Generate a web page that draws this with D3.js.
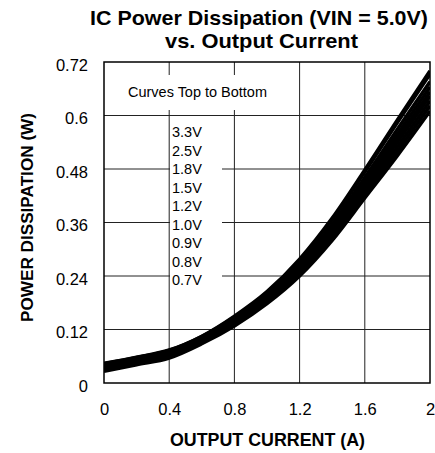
<!DOCTYPE html>
<html>
<head>
<meta charset="utf-8">
<script src="https://cdn.jsdelivr.net/npm/d3@7"></script>
<style>
  body { margin: 0; background: #fff; }
  text { font-family: "Liberation Sans", Arial, sans-serif; fill: #000; }
</style>
</head>
<body>
<div id="chart"></div>
<script>
// output current (A) sample points
const current = [0, 0.2, 0.4, 0.6, 0.8, 1.0, 1.2, 1.4, 1.6, 1.8, 2.0];

// power dissipation (W) for each output voltage
const v33 = [0.044, 0.058, 0.074, 0.105, 0.150, 0.205, 0.278, 0.370, 0.478, 0.590, 0.700];
const v25 = [0.043, 0.057, 0.073, 0.104, 0.148, 0.203, 0.275, 0.366, 0.473, 0.584, 0.693];
const v18 = [0.039, 0.053, 0.069, 0.100, 0.143, 0.197, 0.267, 0.356, 0.461, 0.569, 0.676];
const v15 = [0.037, 0.051, 0.067, 0.098, 0.141, 0.194, 0.263, 0.350, 0.453, 0.558, 0.664];
const v12 = [0.035, 0.049, 0.065, 0.096, 0.139, 0.191, 0.258, 0.344, 0.445, 0.548, 0.653];
const v10 = [0.033, 0.047, 0.063, 0.094, 0.136, 0.188, 0.254, 0.339, 0.439, 0.540, 0.644];
const v09 = [0.031, 0.045, 0.061, 0.092, 0.134, 0.185, 0.250, 0.333, 0.431, 0.530, 0.633];
const v08 = [0.028, 0.043, 0.058, 0.090, 0.131, 0.182, 0.245, 0.327, 0.423, 0.520, 0.622];
const v07 = [0.026, 0.041, 0.056, 0.088, 0.128, 0.178, 0.240, 0.320, 0.415, 0.510, 0.610];

const seriesNames = ["3.3V", "2.5V", "1.8V", "1.5V", "1.2V", "1.0V", "0.9V", "0.8V", "0.7V"];
const seriesValues = [v33, v25, v18, v15, v12, v10, v09, v08, v07];

const xTicks = [0, 0.4, 0.8, 1.2, 1.6, 2];
const yTicks = [0, 0.12, 0.24, 0.36, 0.48, 0.6, 0.72];

const margin = {top: 62, right: 5, bottom: 70, left: 104},
      W = 435, H = 453,
      width = W - margin.left - margin.right,
      height = H - margin.top - margin.bottom;

const svg = d3.select("#chart").append("svg")
    .attr("width", W)
    .attr("height", H);

const g = svg.append("g")
    .attr("transform", "translate(" + margin.left + "," + margin.top + ")");

const x = d3.scaleLinear().domain([0, 2]).range([0, width]);
const y = d3.scaleLinear().domain([0, 0.72]).range([height, 0]);

// grid
g.append("g")
  .selectAll("line")
  .data(xTicks.slice(1, -1))
  .join("line")
  .attr("x1", d => x(d)).attr("x2", d => x(d))
  .attr("y1", 0).attr("y2", height)
  .attr("stroke", "#222").attr("stroke-width", 1);

g.append("g")
  .selectAll("line")
  .data(yTicks.slice(1, -1))
  .join("line")
  .attr("x1", 0).attr("x2", width)
  .attr("y1", d => y(d)).attr("y2", d => y(d))
  .attr("stroke", "#222").attr("stroke-width", 1);

// legend text sits on white patches over the grid
const legend = g.append("g");
legend.append("rect")
  .attr("x", 62).attr("y", 13).attr("width", 70).attr("height", 35)
  .attr("fill", "#fff");
legend.append("text")
  .attr("x", 93.5).attr("y", 35)
  .attr("text-anchor", "middle")
  .attr("textLength", 139).attr("lengthAdjust", "spacingAndGlyphs")
  .style("font-size", "14.5px")
  .text("Curves Top to Bottom");

legend.append("rect")
  .attr("x", 66).attr("y", 56).attr("width", 52).attr("height", 170)
  .attr("fill", "#fff");
legend.selectAll("text.v")
  .data(seriesNames)
  .join("text")
  .attr("class", "v")
  .attr("x", 68)
  .attr("y", (d, i) => 75 + i * 18.5)
  .style("font-size", "14.5px")
  .text(d => d);

// curves
g.append("clipPath").attr("id", "clip")
  .append("rect").attr("width", width).attr("height", height);

const line = d3.line()
  .x((d, i) => x(current[i]))
  .y(d => y(d))
  .curve(d3.curveMonotoneX);

g.append("g")
  .attr("clip-path", "url(#clip)")
  .selectAll("path")
  .data(seriesValues)
  .join("path")
  .attr("d", line)
  .attr("fill", "none")
  .attr("stroke", "#000")
  .attr("stroke-width", 3.5);

// frame
g.append("rect")
  .attr("width", width).attr("height", height)
  .attr("fill", "none").attr("stroke", "#000").attr("stroke-width", 1.5);

// axes
const xAxis = g.append("g")
  .attr("transform", "translate(0," + height + ")")
  .call(d3.axisBottom(x).tickValues(xTicks).tickSize(0).tickPadding(20).tickFormat(d3.format("")));
const yAxis = g.append("g")
  .call(d3.axisLeft(y).tickValues(yTicks).tickSize(0).tickPadding(16).tickFormat(d3.format("")));
yAxis.selectAll("text").attr("dy", "0.5em");
[xAxis, yAxis].forEach(a => {
  a.select(".domain").remove();
  a.selectAll("text").style("font-size", "16.5px").style("font-family", "'Liberation Sans', Arial, sans-serif");
});

// titles
svg.append("text")
  .attr("x", 259).attr("y", 25)
  .attr("text-anchor", "middle")
  .attr("textLength", 338).attr("lengthAdjust", "spacingAndGlyphs")
  .style("font-size", "21px").style("font-weight", "bold")
  .text("IC Power Dissipation (VIN = 5.0V)");
svg.append("text")
  .attr("x", 261.5).attr("y", 48)
  .attr("text-anchor", "middle")
  .attr("textLength", 193).attr("lengthAdjust", "spacingAndGlyphs")
  .style("font-size", "21px").style("font-weight", "bold")
  .text("vs. Output Current");

svg.append("text")
  .attr("x", 267.5).attr("y", 446)
  .attr("text-anchor", "middle")
  .attr("textLength", 195).attr("lengthAdjust", "spacingAndGlyphs")
  .style("font-size", "17.5px").style("font-weight", "bold")
  .text("OUTPUT CURRENT (A)");

svg.append("text")
  .attr("transform", "translate(33,217.5) rotate(-90)")
  .attr("text-anchor", "middle")
  .attr("textLength", 209).attr("lengthAdjust", "spacingAndGlyphs")
  .style("font-size", "16.5px").style("font-weight", "bold")
  .text("POWER DISSIPATION (W)");
</script>
</body>
</html>
